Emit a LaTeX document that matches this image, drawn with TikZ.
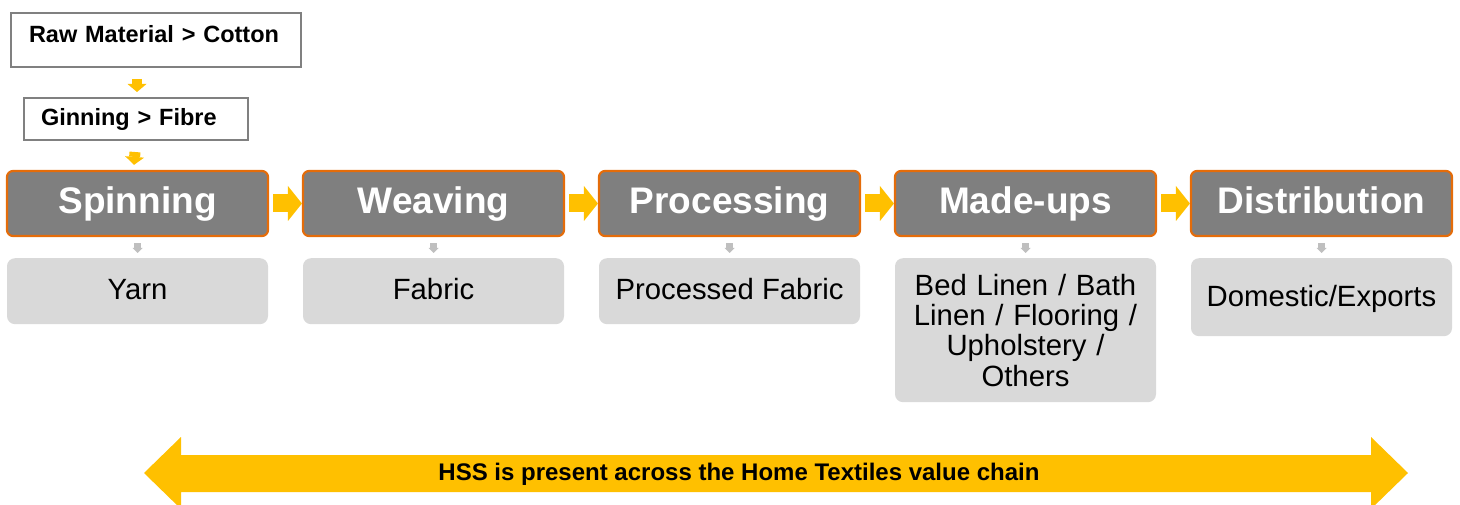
\documentclass[tikz,border=0pt]{standalone}
\usepackage{fontspec}
\setmainfont{Liberation Sans}
\usetikzlibrary{arrows.meta,positioning}
\definecolor{darkbox}{RGB}{127,127,127}
\definecolor{orangeline}{RGB}{228,108,10}
\definecolor{lightbox}{RGB}{217,217,217}
\definecolor{hssyellow}{RGB}{255,192,0}
\definecolor{smallgray}{RGB}{191,191,191}
\definecolor{topline}{RGB}{128,128,128}
\begin{document}
\begin{tikzpicture}[x=1pt,y=-1pt,
  topbox/.style={draw=topline, line width=2pt, fill=white, anchor=west, align=left,
    font=\fontsize{23.5}{28}\selectfont\bfseries},
  stagebox/.style={draw=orangeline, line width=2.2pt, fill=darkbox, rounded corners=6pt,
    minimum width=261pt, minimum height=65pt, inner sep=0pt, text=white,
    text height=26.5pt, text depth=5.9pt,
    font=\fontsize{37}{44}\selectfont\bfseries},
  outbox/.style={fill=lightbox, rounded corners=8pt, anchor=north,
    minimum width=261pt, inner sep=0pt, align=center,
    font=\fontsize{29.3}{30.3}\selectfont},
  oneline/.style={text height=21pt, text depth=3.4pt},
  yarrowv/.style={draw=hssyellow, line width=#1, -{Triangle[length=8pt,width=19pt,line width=0pt]}},
  yarrowh/.style={draw=hssyellow, line width=18pt, -{Triangle[length=14pt,width=35pt,line width=0pt]}},
  garrow/.style={draw=smallgray, line width=7pt, -{Triangle[length=5pt,width=10pt,line width=0pt]}},
]
\useasboundingbox (0,0) rectangle (1460,505);

% top boxes
\node[topbox, minimum width=290pt, minimum height=54pt, inner xsep=18pt, text width=254pt,
  text height=16pt, text depth=10.6pt] (raw) at (10,40) {Raw Material > Cotton};
\node[topbox, minimum width=224pt, minimum height=42pt, inner xsep=17pt, text width=190pt,
  text height=17pt, text depth=3pt] (gin) at (23,119) {Ginning > Fibre};

% stages
\node[stagebox] (spin) at (137.5,203.5) {Spinning};
\node[stagebox] (weave) at (433.5,203.5) {Weaving};
\node[stagebox] (proc) at (729.5,203.5) {Processing};
\node[stagebox] (made) at (1025.5,203.5) {Made-ups};
\node[stagebox] (dist) at (1321.5,203.5) {Distribution};

% outputs
\node[outbox, oneline, minimum height=66pt] (yarn) at (137.5,258) {Yarn};
\node[outbox, oneline, minimum height=66pt] (fabric) at (433.5,258) {Fabric};
\node[outbox, oneline, minimum height=66pt] (pfabric) at (729.5,258) {Processed Fabric};
\node[outbox, minimum height=144pt, text width=255pt] (linen) at (1025.5,258)
  {Bed Linen / Bath\\Linen / Flooring /\\Upholstery /\\Others};
\node[outbox, oneline, minimum height=78pt] (domex) at (1321.5,258) {Domestic/Exports};

% vertical yellow arrows
\draw[yarrowv=10pt] ([xshift=-19pt,yshift=-11pt]raw.south) -- ([xshift=1pt,yshift=5pt]gin.north);
\draw[yarrowv=11pt] ([xshift=-1pt,yshift=-11pt]gin.south) -- ([xshift=-3.5pt,yshift=5pt]spin.north);

% horizontal yellow arrows
\draw[yarrowh] ([xshift=4pt]spin.east) -- (weave.west);
\draw[yarrowh] ([xshift=4pt]weave.east) -- (proc.west);
\draw[yarrowh] ([xshift=4pt]proc.east) -- (made.west);
\draw[yarrowh] ([xshift=4pt]made.east) -- (dist.west);

% small gray arrows
\draw[garrow] ([yshift=-6pt]spin.south) -- ([yshift=5pt]yarn.north);
\draw[garrow] ([yshift=-6pt]weave.south) -- ([yshift=5pt]fabric.north);
\draw[garrow] ([yshift=-6pt]proc.south) -- ([yshift=5pt]pfabric.north);
\draw[garrow] ([yshift=-6pt]made.south) -- ([yshift=5pt]linen.north);
\draw[garrow] ([yshift=-6pt]dist.south) -- ([yshift=5pt]domex.north);

% bottom double arrow
\fill[hssyellow] (144,473) -- (181,437) -- (181,455) -- (1371,455) -- (1371,437)
  -- (1408,473) -- (1371,509) -- (1371,492) -- (181,492) -- (181,509) -- cycle;
\node[anchor=base, inner sep=0pt, font=\fontsize{24}{28}\selectfont\bfseries] (hss) at (739,480.7)
  {HSS is present across the Home Textiles value chain};
\end{tikzpicture}
\end{document}
